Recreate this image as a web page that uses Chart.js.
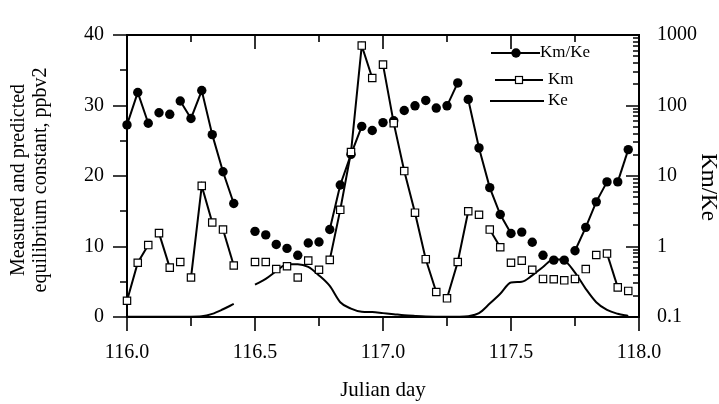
<!DOCTYPE html>
<html>
<head>
<meta charset="utf-8">
<script src="https://cdn.jsdelivr.net/npm/chart.js@4.4.1/dist/chart.umd.min.js"></script>
<style>
  html, body { margin: 0; padding: 0; background: #fff; }
  #wrap { width: 719px; height: 404px; position: relative; }
</style>
</head>
<body>
<div id="wrap"><canvas id="chart"></canvas></div>
<script>
// hourly samples, Julian day
const days = [
  116.000, 116.042, 116.083, 116.125, 116.167, 116.208, 116.250, 116.292, 116.333, 116.375, 116.417, 116.458,
  116.500, 116.542, 116.583, 116.625, 116.667, 116.708, 116.750, 116.792, 116.833, 116.875, 116.917, 116.958,
  117.000, 117.042, 117.083, 117.125, 117.167, 117.208, 117.250, 117.292, 117.333, 117.375, 117.417, 117.458,
  117.500, 117.542, 117.583, 117.625, 117.667, 117.708, 117.750, 117.792, 117.833, 117.875, 117.917, 117.958
];
// ratio, right log axis
const kmKe = [
  53, 153, 56, 79, 75, 116, 65.5, 163, 38.6, 11.5, 4.07, null,
  1.64, 1.46, 1.07, 0.94, 0.75, 1.12, 1.16, 1.74, 7.45, 20.3, 50.5, 44.2,
  57.2, 60.8, 84.8, 99, 118, 92, 99, 209, 122, 25, 6.84, 2.84,
  1.53, 1.60, 1.15, 0.75, 0.64, 0.64, 0.87, 1.87, 4.3, 8.25, 8.25, 23.7
];
// measured, ppbv2
const km = [
  2.3, 7.7, 10.2, 11.9, 7.0, 7.8, 5.6, 18.6, 13.4, 12.4, 7.3, null,
  7.8, 7.8, 6.8, 7.2, 5.6, 8.0, 6.7, 8.1, 15.2, 23.4, 38.5, 33.9,
  35.8, 27.5, 20.7, 14.8, 8.2, 3.55, 2.65, 7.8, 15.0, 14.5, 12.4, 9.9,
  7.7, 8.0, 6.7, 5.4, 5.35, 5.2, 5.4, 6.8, 8.8, 9.0, 4.2, 3.7
];
// predicted, ppbv2
const ke = [
  0.02, 0.03, 0.05, 0.05, 0.05, 0.05, 0.05, 0.1, 0.45, 1.1, 1.85, null,
  4.6, 5.4, 6.5, 7.5, 7.5, 7.1, 5.9, 4.4, 2.1, 1.2, 0.75, 0.7,
  0.55, 0.4, 0.25, 0.15, 0.07, 0.04, 0.03, 0.04, 0.12, 0.55, 1.9, 3.3,
  4.9, 5.0, 5.9, 7.1, 8.2, 8.0, 6.3, 4.0, 2.1, 1.0, 0.45, 0.15
];
const xTicks = [116, 116.5, 117, 117.5, 118];
const yTicks = [0, 10, 20, 30, 40];
const y2Ticks = [0.1, 1, 10, 100, 1000];

const serif = "'Liberation Serif', 'Times New Roman', serif";
const pts = (ys) => days.map((d, i) => ({ x: d, y: ys[i] }));

// Origin-style gap round the symbols: short segments vanish
const hideShort = (ctx) =>
  Math.hypot(ctx.p1.x - ctx.p0.x, ctx.p1.y - ctx.p0.y) < 20 ? 'rgba(0,0,0,0)' : '#000';

const frame = {
  id: 'frame',
  beforeDatasetsDraw(chart) {
    const { ctx, chartArea: a, scales } = chart;
    const x = scales.x, y = scales.y, y2 = scales.y2;
    ctx.save();
    ctx.strokeStyle = '#000';
    ctx.lineWidth = 2;
    ctx.strokeRect(a.left, a.top, a.right - a.left, a.bottom - a.top);
    ctx.lineWidth = 1.6;
    ctx.beginPath();
    for (let v = 116; v <= 118.001; v += 0.25) {
      const px = Math.round(x.getPixelForValue(v));
      const major = Math.abs(v * 2 - Math.round(v * 2)) < 1e-6;
      ctx.moveTo(px, a.bottom); ctx.lineTo(px, a.bottom + (major ? 14 : 9));
      ctx.moveTo(px, a.top); ctx.lineTo(px, a.top + (major ? 14 : 7));
    }
    for (let v = 0; v <= 40; v += 5) {
      const py = Math.round(y.getPixelForValue(v));
      ctx.moveTo(a.left, py); ctx.lineTo(a.left - (v % 10 === 0 ? 14 : 7), py);
    }
    [0.1, 1, 10, 100].forEach((d) => {
      for (let k = 1; k <= 10; k++) {
        const py = Math.round(y2.getPixelForValue(k * d));
        const major = k === 1 || k === 10;
        ctx.moveTo(a.right, py); ctx.lineTo(a.right - (major ? 13 : 6), py);
      }
    });
    ctx.stroke();
    ctx.restore();
  },
  afterDraw(chart) {
    const { ctx } = chart;
    ctx.save();
    ctx.fillStyle = '#000';
    ctx.strokeStyle = '#000';
    // axis titles
    ctx.font = `20px ${serif}`;
    ctx.textAlign = 'center';
    ctx.textBaseline = 'middle';
    ctx.save();
    ctx.translate(19, 180);
    ctx.rotate(-Math.PI / 2);
    ctx.fillText('Measured and predicted', 0, 0);
    ctx.fillText('equilibrium constant, ppbv2', 0, 22);
    ctx.restore();
    ctx.save();
    ctx.font = `23px ${serif}`;
    ctx.translate(708, 187);
    ctx.rotate(Math.PI / 2);
    ctx.fillText('Km/Ke', 0, 0);
    ctx.restore();
    // legend
    ctx.font = `17px ${serif}`;
    ctx.textAlign = 'left';
    ctx.lineWidth = 2;
    ctx.beginPath();
    ctx.moveTo(491, 53); ctx.lineTo(540, 53);
    ctx.moveTo(495, 80); ctx.lineTo(543, 80);
    ctx.moveTo(490, 101); ctx.lineTo(544, 101);
    ctx.stroke();
    ctx.beginPath();
    ctx.arc(516, 53, 4.7, 0, Math.PI * 2);
    ctx.fill();
    ctx.fillStyle = '#fff';
    ctx.fillRect(519 - 3.5, 80 - 3.5, 7, 7);
    ctx.lineWidth = 1.2;
    ctx.strokeRect(519 - 3.5, 80 - 3.5, 7, 7);
    ctx.fillStyle = '#000';
    ctx.fillText('Km/Ke', 540, 53);
    ctx.fillText('Km', 548, 80);
    ctx.fillText('Ke', 548, 101);
    ctx.restore();
  }
};

new Chart(document.getElementById('chart'), {
  type: 'line',
  data: {
    datasets: [
      {
        label: 'Km',
        data: pts(km),
        yAxisID: 'y',
        borderColor: '#000',
        borderWidth: 2,
        pointStyle: 'rect',
        pointRadius: 5.2,
        pointBorderWidth: 1.2,
        pointBorderColor: '#000',
        pointBackgroundColor: '#fff',
        segment: { borderColor: hideShort },
        spanGaps: false,
        clip: false,
        order: 0
      },
      {
        label: 'Km/Ke',
        data: pts(kmKe),
        yAxisID: 'y2',
        borderColor: '#000',
        borderWidth: 2,
        pointStyle: 'circle',
        pointRadius: 4.7,
        pointBorderWidth: 0,
        pointBackgroundColor: '#000',
        segment: { borderColor: hideShort },
        spanGaps: false,
        clip: false,
        order: 1
      },
      {
        label: 'Ke',
        data: pts(ke),
        yAxisID: 'y',
        borderColor: '#000',
        borderWidth: 2,
        pointRadius: 0,
        cubicInterpolationMode: 'monotone',
        spanGaps: false,
        clip: false,
        order: 2
      }
    ]
  },
  options: {
    responsive: true,
    maintainAspectRatio: false,
    animation: false,
    events: [],
    layout: { padding: { top: 21, left: 0, right: 0, bottom: 0 } },
    plugins: { legend: { display: false }, tooltip: { enabled: false } },
    scales: {
      x: {
        type: 'linear',
        position: 'bottom',
        min: 116,
        max: 118,
        afterBuildTicks: (s) => { s.ticks = xTicks.map((v) => ({ value: v })); },
        afterFit: (s) => { s.height = 87; },
        grid: { display: false, drawTicks: false },
        border: { display: false },
        ticks: {
          callback: (v) => Number(v).toFixed(1),
          color: '#000',
          font: { family: serif, size: 20 },
          padding: 24,
          maxRotation: 0,
          autoSkip: false
        },
        title: {
          display: true,
          text: 'Julian day',
          color: '#000',
          font: { family: serif, size: 21 },
          padding: { top: 0, bottom: 1 }
        }
      },
      y: {
        type: 'linear',
        position: 'left',
        min: 0,
        max: 40,
        afterBuildTicks: (s) => { s.ticks = yTicks.map((v) => ({ value: v })); },
        afterFit: (s) => { s.width = 127; },
        grid: { display: false, drawTicks: false },
        border: { display: false },
        ticks: {
          color: '#000',
          font: { family: serif, size: 20 },
          padding: 23
        }
      },
      y2: {
        type: 'logarithmic',
        position: 'right',
        min: 0.1,
        max: 1000,
        afterBuildTicks: (s) => { s.ticks = y2Ticks.map((v) => ({ value: v })); },
        afterFit: (s) => { s.width = 80; },
        grid: { display: false, drawTicks: false },
        border: { display: false },
        ticks: {
          callback: (v) => String(v),
          color: '#000',
          font: { family: serif, size: 20 },
          padding: 18
        }
      }
    }
  },
  plugins: [frame]
});
</script>
</body>
</html>
